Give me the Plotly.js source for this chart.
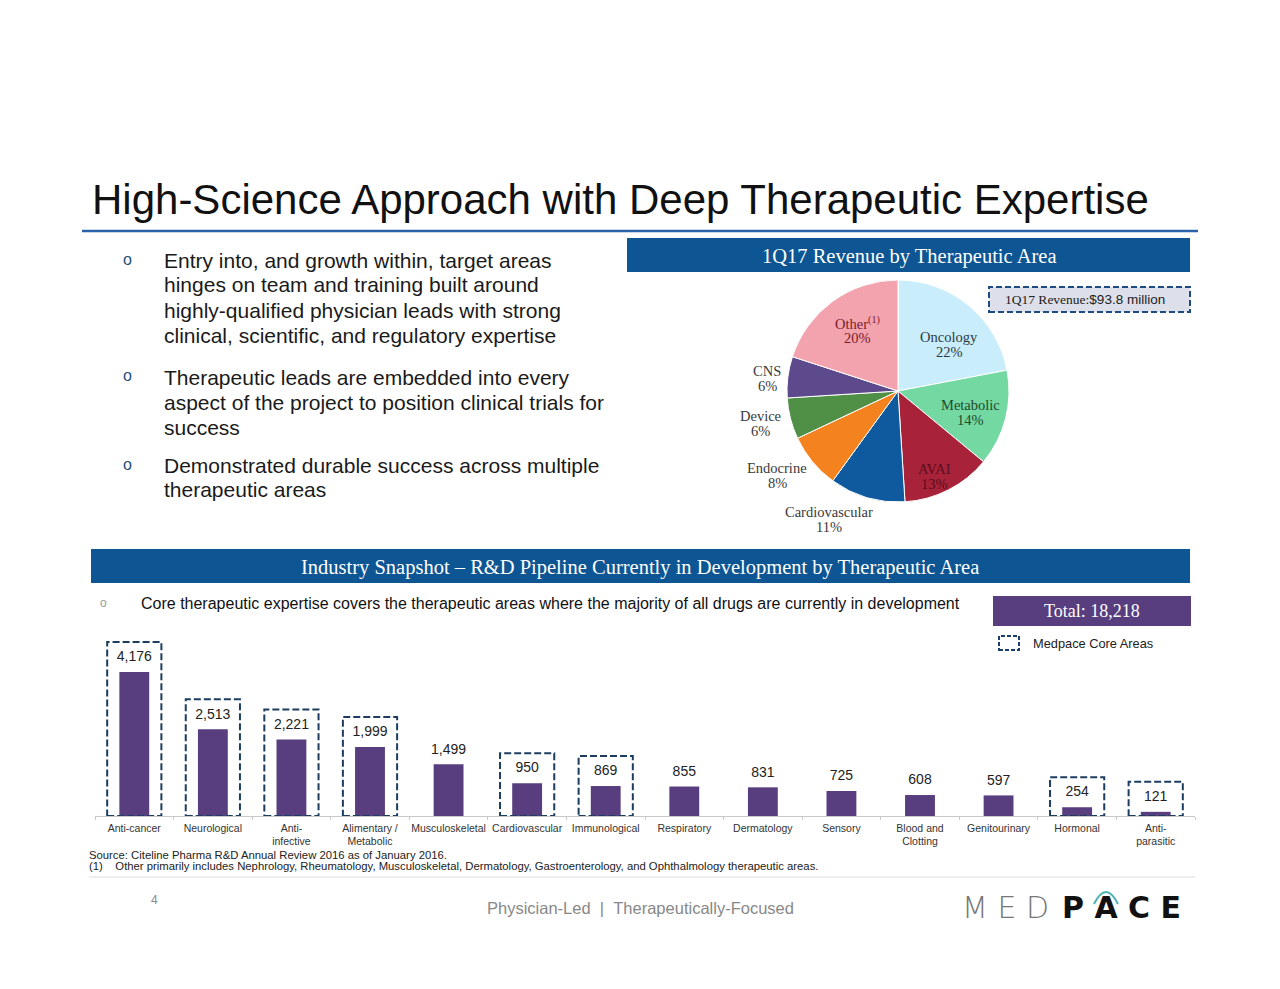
<!DOCTYPE html>
<html><head><meta charset="utf-8">
<script src="https://cdn.plot.ly/plotly-3.0.1.min.js"></script>
<style>html,body{margin:0;padding:0;background:#fff}#chart{width:1280px;height:989px}</style>
</head><body><div id="chart"></div>
<script>
// ---------- data ----------
const slideTitle = 'High-Science Approach with Deep Therapeutic Expertise';
const bullets = [
  ['Entry into, and growth within, target areas', 'hinges on team and training built around', 'highly-qualified physician leads with strong', 'clinical, scientific, and regulatory expertise'],
  ['Therapeutic leads are embedded into every', 'aspect of the project to position clinical trials for', 'success'],
  ['Demonstrated durable success across multiple', 'therapeutic areas']
];
const pieTitle = '1Q17 Revenue by Therapeutic Area';
const revenueNote = '1Q17 Revenue:';
const revenueAmount = '$93.8 million';
const pieLabels = ['Oncology','Metabolic','AVAI','Cardiovascular','Endocrine','Device','CNS','Other<sup>(1)</sup>'];
const pieValues = [22, 14, 13, 11, 8, 6, 6, 20];
const pieColors = ['#c9edfa','#74d8a3','#a82339','#0f5a9e','#f4821f','#4f8f46','#5d4a8c','#f2a3ae'];
const pieTextColors = ['#2a3a44','#1d4a2c','#5a0c1c','#3a3a3a','#3a3a3a','#3a3a3a','#3a3a3a','#7a1b2b'];

const sectionTitle = 'Industry Snapshot \u2013 R&D Pipeline Currently in Development by Therapeutic Area';
const sectionNote = 'Core therapeutic expertise covers the therapeutic areas where the majority of all drugs are currently in development';
const totalLabel = 'Total: 18,218';
const legendLabel = 'Medpace Core Areas';
const pipeCategories = ['Anti-cancer','Neurological','Anti-infective','Alimentary / Metabolic','Musculoskeletal','Cardiovascular','Immunological','Respiratory','Dermatology','Sensory','Blood and Clotting','Genitourinary','Hormonal','Anti-parasitic'];
const pipeTickLabels = ['Anti-cancer','Neurological','Anti-<br>infective','Alimentary /<br>Metabolic','Musculoskeletal','Cardiovascular','Immunological','Respiratory','Dermatology','Sensory','Blood and<br>Clotting','Genitourinary','Hormonal','Anti-<br>parasitic'];
const pipeValues = [4176, 2513, 2221, 1999, 1499, 950, 869, 855, 831, 725, 608, 597, 254, 121];
const coreArea = [true, true, true, true, false, true, true, false, false, false, false, false, true, true];
const sourceNote = 'Source: Citeline Pharma R&D Annual Review 2016 as of January 2016.';
const footNote = '(1)&nbsp;&nbsp;&nbsp;&nbsp;Other primarily includes Nephrology, Rheumatology, Musculoskeletal, Dermatology, Gastroenterology, and Ophthalmology therapeutic areas.';
const pageNumber = '4';
const footerText = 'Physician-Led&nbsp;&nbsp;|&nbsp;&nbsp;Therapeutically-Focused';
const logoLight = 'M&nbsp;E&nbsp;D';
const logoBold = 'P&nbsp;A&nbsp;C&nbsp;E';

// ---------- layout helpers ----------
const W = 1280, H = 989;
const px = x => x / W;
const py = y => 1 - y / H;
const SANS = 'Liberation Sans, Arial, sans-serif';
const SERIF = 'Liberation Serif, Times New Roman, serif';
const NAVY = '#0d5593';
const PURPLE = '#583e7e';

// pie geometry & label placement (pixels: centre of first label line)
const pieC = [898, 391], pieR = 111;
const pieLabelPos = [[949,337],[970,405],[934,469],[829,512],[777,468],[760,416],[767,371],[857,323]];
const pieLabelStep = 15;

// bar axis geometry
const baseY = 816, topY = 640, pxPerUnit = 144 / 4176;
const yMax = (baseY - topY) / pxPerUnit;
const boxPad = 30 / pxPerUnit;

const pieTotal = pieValues.reduce((a, b) => a + b, 0);

const traces = [
  {
    type: 'pie', labels: pieLabels, values: pieValues, sort: false,
    direction: 'clockwise', rotation: 0, textinfo: 'none', hoverinfo: 'label+percent',
    marker: {colors: pieColors, line: {color: '#ffffff', width: 1}},
    domain: {x: [px(pieC[0] - pieR), px(pieC[0] + pieR)], y: [py(pieC[1] + pieR), py(pieC[1] - pieR)]},
    showlegend: false
  },
  {
    type: 'bar', x: pipeCategories, y: pipeValues, width: 0.38,
    marker: {color: PURPLE}, hoverinfo: 'x+y',
    xaxis: 'x', yaxis: 'y', showlegend: false
  },
  {
    type: 'scatter', mode: 'markers+text', x: pipeCategories, y: pipeValues,
    text: pipeValues.map(v => v.toLocaleString('en-US')), textposition: 'top center',
    marker: {size: 10, opacity: 0}, cliponaxis: false,
    textfont: {family: SANS, size: 14, color: '#222'},
    xaxis: 'x', yaxis: 'y', showlegend: false, hoverinfo: 'skip'
  }
];

const shapes = [
  {type: 'line', xref: 'paper', yref: 'paper', x0: px(82), x1: px(1198), y0: py(231), y1: py(231), line: {color: '#2b63a8', width: 2.5}},
  {type: 'rect', xref: 'paper', yref: 'paper', x0: px(627), x1: px(1190), y0: py(272), y1: py(238), fillcolor: NAVY, line: {width: 0}},
  {type: 'rect', xref: 'paper', yref: 'paper', x0: px(989), x1: px(1190), y0: py(312), y1: py(287), fillcolor: '#dde0ea', line: {color: '#1d4a80', width: 2, dash: '6px,3px'}},
  {type: 'rect', xref: 'paper', yref: 'paper', x0: px(91), x1: px(1190), y0: py(583), y1: py(549), fillcolor: NAVY, line: {width: 0}},
  {type: 'rect', xref: 'paper', yref: 'paper', x0: px(993), x1: px(1191), y0: py(626), y1: py(596), fillcolor: PURPLE, line: {width: 0}},
  {type: 'rect', xref: 'paper', yref: 'paper', x0: px(999), x1: px(1019), y0: py(650), y1: py(636), line: {color: '#1b3f6b', width: 2, dash: '4px,2px'}},
  {type: 'line', xref: 'paper', yref: 'paper', x0: px(89), x1: px(1195), y0: py(877), y1: py(877), line: {color: '#dddddd', width: 1}},
  {type: 'path', xref: 'paper', yref: 'paper', path: `M ${px(1094)} ${py(904)} Q ${px(1106)} ${py(880)} ${px(1118)} ${py(904)}`, line: {color: '#4fb3b3', width: 2}}
];
pipeValues.forEach((v, i) => {
  if (coreArea[i]) shapes.push({
    type: 'rect', xref: 'x', yref: 'y', x0: i - 0.345, x1: i + 0.345, y0: 0, y1: v + boxPad,
    line: {color: '#1c3d60', width: 2, dash: '7px,3px'}, fillcolor: 'rgba(0,0,0,0)'
  });
});

const ann = [];
const A = (o) => ann.push(Object.assign({xref: 'paper', yref: 'paper', showarrow: false, xanchor: 'center', yanchor: 'middle'}, o));
A({x: px(90), y: py(199), xanchor: 'left', text: slideTitle, font: {family: SANS, size: 42, color: '#111'}});
const bulletFirst = [260, 377, 465], lineStep = 25;
bullets.forEach((lines, i) => {
  lines.forEach((ln, j) => {
    A({x: px(162), y: py(bulletFirst[i] + j * lineStep), xanchor: 'left', text: ln, font: {family: SANS, size: 21, color: '#1a1a1a'}});
  });
  A({x: px(127), y: py(bulletFirst[i] - 1), text: 'o', font: {family: SANS, size: 16, color: '#1f4e79'}});
});
A({x: px(909), y: py(256), text: pieTitle, font: {family: SERIF, size: 20.5, color: '#ffffff'}});
A({x: px(1085), y: py(299), text: `<span style="font-family:${SERIF}">${revenueNote}</span>${revenueAmount}`, font: {family: SANS, size: 13.5, color: '#222'}});
pieLabels.forEach((l, i) => {
  const f = {family: SERIF, size: 14.5, color: pieTextColors[i]};
  A({x: px(pieLabelPos[i][0]), y: py(pieLabelPos[i][1]), text: l, font: f});
  A({x: px(pieLabelPos[i][0]), y: py(pieLabelPos[i][1] + pieLabelStep), text: Math.round(pieValues[i] / pieTotal * 100) + '%', font: f});
});
A({x: px(640), y: py(567), text: sectionTitle, font: {family: SERIF, size: 20.5, color: '#ffffff'}});
A({x: px(103), y: py(603), text: 'o', font: {family: SANS, size: 12, color: '#999'}});
A({x: px(139), y: py(603), xanchor: 'left', text: sectionNote, font: {family: SANS, size: 16, color: '#111'}});
A({x: px(1092), y: py(611), text: totalLabel, font: {family: SERIF, size: 18, color: '#ffffff'}});
A({x: px(1031), y: py(643), xanchor: 'left', text: legendLabel, font: {family: SANS, size: 12.8, color: '#222'}});
A({x: px(87), y: py(855), xanchor: 'left', text: sourceNote, font: {family: SANS, size: 11.3, color: '#222'}});
A({x: px(87), y: py(866), xanchor: 'left', text: footNote, font: {family: SANS, size: 11.3, color: '#222'}});
A({x: px(154), y: py(900), text: pageNumber, font: {family: SANS, size: 12, color: '#888'}});
A({x: px(640), y: py(908), text: footerText, font: {family: SANS, size: 16.5, color: '#888'}});
A({x: px(960), y: py(907), xanchor: 'left', text: logoLight, font: {family: 'DejaVu Sans, sans-serif', size: 30, color: '#777', weight: 200}});
A({x: px(1060), y: py(907), xanchor: 'left', text: '<b>' + logoBold + '</b>', font: {family: 'DejaVu Sans, sans-serif', size: 30, color: '#111'}});

const layout = {
  width: W, height: H, margin: {l: 0, r: 0, t: 0, b: 0},
  paper_bgcolor: '#ffffff', plot_bgcolor: 'rgba(0,0,0,0)', showlegend: false,
  xaxis: {domain: [px(95), px(1195)], range: [-0.5, 13.5], type: 'category',
    tickvals: pipeCategories, ticktext: pipeTickLabels, tickangle: 0,
    showline: true, linecolor: '#c8c8c8', linewidth: 1, ticks: 'outside', ticklen: 3, tickcolor: '#c8c8c8', tickson: 'boundaries',
    ticklabelstandoff: 2,
    tickfont: {family: SANS, size: 10.5, color: '#333'}, showgrid: false, zeroline: false, fixedrange: true},
  yaxis: {domain: [py(baseY), py(topY)], range: [0, yMax], visible: false, showgrid: false, zeroline: false, fixedrange: true},
  shapes: shapes, annotations: ann
};
Plotly.newPlot('chart', traces, layout, {displayModeBar: false, staticPlot: true});
</script>
</body></html>
